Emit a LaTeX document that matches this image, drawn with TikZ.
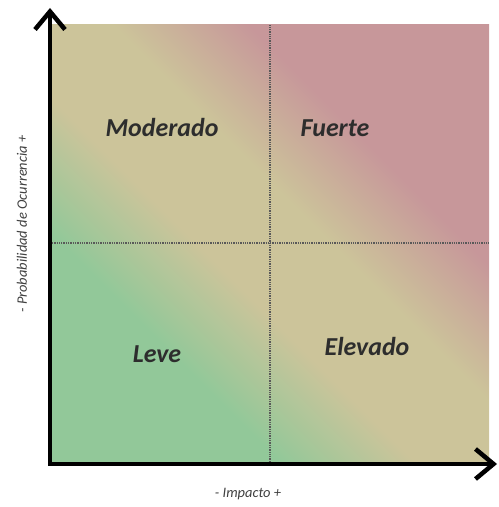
\documentclass[tikz,border=0pt]{standalone}
\usepackage{fontspec}
\setmainfont{Carlito}
\usepackage{tikz}
\usetikzlibrary{arrows.meta,positioning}
\usepackage{xcolor}
\definecolor{riskgreen}{RGB}{146,200,153}
\definecolor{risktan}{RGB}{204,196,154}
\definecolor{riskred}{RGB}{199,151,154}
\definecolor{labelgray}{RGB}{45,45,45}
\pgfdeclarehorizontalshading{riskshading}{100bp}{color(0bp)=(riskgreen); color(33bp)=(riskgreen); color(44bp)=(risktan); color(55bp)=(risktan); color(66bp)=(riskred); color(100bp)=(riskred)}

\begin{document}
\begin{tikzpicture}[x=1bp,y=1bp,
  axis/.style={line width=4.5bp,line cap=rect,-{Straight Barb[length=18bp,width=30bp]}},
  divider/.style={densely dotted,line width=1.3bp,black!65},
  quad/.style={font=\fontsize{26}{30}\selectfont\bfseries\itshape,text=labelgray},
  axlabel/.style={font=\fontsize{14.5}{16}\selectfont\itshape,text=black!75}]
  \useasboundingbox (0,0) rectangle (499,507);
  \coordinate (origin) at (50,43);
  \coordinate (ytip) at (50,499);
  \coordinate (xtip) at (497,43);
  \coordinate (sw) at (52,45);
  \coordinate (ne) at (489,482);
  \shade[shading=riskshading,shading angle=45] (sw) rectangle (ne);
  \draw[divider] (52,264) -- (489,264);
  \draw[divider] (270,45) -- (270,482);
  \draw[axis] (origin) -- (ytip);
  \draw[axis] (origin) -- (xtip);
  \node[quad] (moderado) at (162,379) {Moderado};
  \node[quad] (fuerte) at (335,379) {Fuerte};
  \node[quad] (leve) at (157,153) {Leve};
  \node[quad] (elevado) at (367,160) {Elevado};
  \node[axlabel] (xlab) at (248,13) {- Impacto +};
  \node[axlabel,rotate=90] (ylab) at (22,283) {- Probabilidad de Ocurrencia +};
\end{tikzpicture}
\end{document}
